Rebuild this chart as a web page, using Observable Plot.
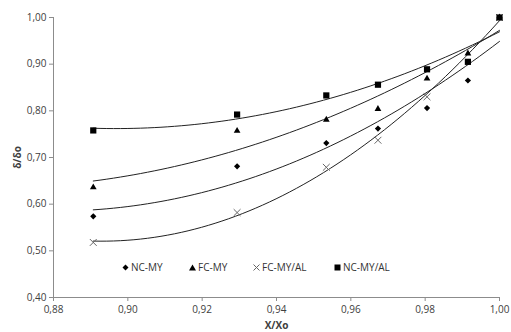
<!DOCTYPE html>
<html><head><meta charset="utf-8">
<script src="https://cdn.jsdelivr.net/npm/d3@7"></script>
<script src="https://cdn.jsdelivr.net/npm/@observablehq/plot@0.6"></script>
<style>
body{margin:0;background:#fff;}
#wrap{position:relative;width:511px;height:332px;overflow:hidden;font-family:"Open Sans",sans-serif;}
#wrap svg text{font-family:"Open Sans",sans-serif;}
.leg{position:absolute;top:260px;font-size:10px;color:#333;display:flex;align-items:center;white-space:nowrap;}
.leg svg{margin-right:2px}
</style></head><body><div id="wrap"></div>
<script>
// Data
const xAll = [0.8907, 0.9294, 0.9534, 0.9673, 0.9805, 0.9915, 1.0];
const xCross = [0.8907, 0.9294, 0.9534, 0.9673, 0.9805, 1.0];
const ncMy   = [0.574, 0.681, 0.731, 0.762, 0.806, 0.865, 1.0];
const fcMy   = [0.636, 0.757, 0.781, 0.804, 0.869, 0.923, 1.0];
const fcMyAl = [0.518, 0.582, 0.679, 0.737, 0.830, 1.0];
const ncMyAl = [0.758, 0.792, 0.833, 0.856, 0.889, 0.905, 1.0];
const xTicks = [0.88, 0.90, 0.92, 0.94, 0.96, 0.98, 1.00];
const yTicks = [0.40, 0.50, 0.60, 0.70, 0.80, 0.90, 1.00];
const seriesNames = ["NC-MY", "FC-MY", "FC-MY/AL", "NC-MY/AL"];

const series = [
  {name: seriesNames[0], xs: xAll, ys: ncMy},
  {name: seriesNames[1], xs: xAll, ys: fcMy},
  {name: seriesNames[2], xs: xCross, ys: fcMyAl},
  {name: seriesNames[3], xs: xAll, ys: ncMyAl}
];
const pts = series.map(s => s.xs.map((x, i) => ({x, y: s.ys[i], s: s.name})));

// second-order polynomial trend line (least squares), like the spreadsheet trendline
function quadFit(xs, ys) {
  const S = Array.from({length: 5}, (_, k) => d3.sum(xs, x => x ** k));
  const T = Array.from({length: 3}, (_, k) => d3.sum(xs, (x, i) => ys[i] * x ** k));
  const A = [[S[0], S[1], S[2], T[0]], [S[1], S[2], S[3], T[1]], [S[2], S[3], S[4], T[2]]];
  for (let i = 0; i < 3; i++) {
    for (let j = i + 1; j < 3; j++) {
      const f = A[j][i] / A[i][i];
      for (let k = i; k < 4; k++) A[j][k] -= f * A[i][k];
    }
  }
  const c = [0, 0, 0];
  for (let i = 2; i >= 0; i--) {
    let v = A[i][3];
    for (let k = i + 1; k < 3; k++) v -= A[i][k] * c[k];
    c[i] = v / A[i][i];
  }
  return x => c[0] + c[1] * x + c[2] * x * x;
}
const trends = series.map(s => {
  const f = quadFit(s.xs, s.ys);
  const x0 = d3.min(s.xs), x1 = d3.max(s.xs);
  return d3.range(0, 61).map(i => {const x = x0 + (x1 - x0) * i / 60; return {x, y: f(x), s: s.name};});
});

const fmt = d3.format(".2f");
const comma = v => fmt(v).replace(".", ",");

const chart = Plot.plot({
  width: 511, height: 332,
  marginLeft: 53, marginRight: 12, marginTop: 17, marginBottom: 35,
  style: {fontSize: "10px", color: "#404040", background: "white"},
  x: {domain: [0.88, 1.0], ticks: xTicks, tickFormat: comma, tickSize: 4, tickPadding: 4,
      label: "X/Xo", labelAnchor: "center", labelOffset: 31, labelArrow: "none"},
  y: {domain: [0.4, 1.0], ticks: yTicks, tickFormat: comma, tickSize: 4, tickPadding: 3,
      label: "δ/δo", labelAnchor: "center", labelOffset: 40, labelArrow: "none"},
  marks: [
    Plot.ruleX([0.88], {stroke: "#8c8c8c"}),
    Plot.ruleY([0.4], {stroke: "#8c8c8c"}),
    ...trends.map(t => Plot.line(t, {x: "x", y: "y", stroke: "#222", strokeWidth: 1})),
    Plot.dot(pts[2], {x: "x", y: "y", symbol: "times", r: 3.2, stroke: "#666", strokeWidth: 1}),
    Plot.dot(pts[0], {x: "x", y: "y", symbol: "diamond2", r: 2.8, fill: "black", stroke: "none"}),
    Plot.dot(pts[1], {x: "x", y: "y", symbol: "triangle", r: 2.5, fill: "black", stroke: "none"}),
    Plot.dot(pts[3], {x: "x", y: "y", symbol: "square", r: 3.5, fill: "black", stroke: "none"})
  ]
});
d3.select(chart).selectAll('[aria-label$="tick"] path, [aria-label$="tick"]').attr("stroke", "#8c8c8c");
d3.select(chart).selectAll('[aria-label$="axis label"] text, [aria-label$="axis label"]').style("font-weight", "bold").attr("fill", "#404040");
// strip any direction arrows the library may append to axis labels
d3.select(chart).selectAll('[aria-label$="axis label"] text').each(function() {
  this.textContent = this.textContent.replace(/\s*[↑↓→←]\s*/g, "").trim();
});
const wrap = document.getElementById("wrap");
wrap.appendChild(chart);

const legendItems = [
  {name: seriesNames[0], left: 122, sym: '<path d="M3.5,0.5L6.5,3.5L3.5,6.5L0.5,3.5Z" fill="black"/>'},
  {name: seriesNames[1], left: 189, sym: '<path d="M3.5,0.5L7,6.5L0,6.5Z" fill="black"/>'},
  {name: seriesNames[2], left: 253, sym: '<path d="M0.5,0.5L6.5,6.5M6.5,0.5L0.5,6.5" stroke="#666" fill="none"/>'},
  {name: seriesNames[3], left: 334, sym: '<rect x="0.5" y="0.5" width="6" height="6" fill="black"/>'}
];
for (const it of legendItems) {
  const d = document.createElement("div");
  d.className = "leg";
  d.style.left = it.left + "px";
  d.innerHTML = `<svg width="7" height="7">${it.sym}</svg><span>${it.name}</span>`;
  wrap.appendChild(d);
}
</script></body></html>
